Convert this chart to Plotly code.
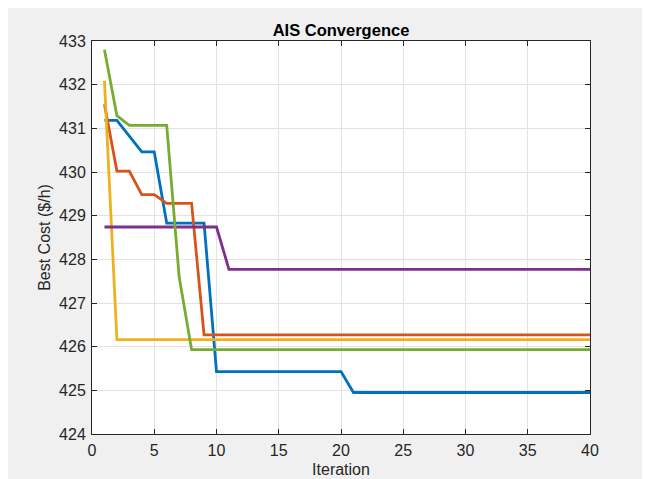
import plotly.graph_objects as go

iterations = list(range(1, 41))

blue = [431.18, 431.18, 430.82, 430.46, 430.46, 428.83, 428.83, 428.83, 428.83,
        425.43, 425.43, 425.43, 425.43, 425.43, 425.43, 425.43, 425.43, 425.43, 425.43, 425.43,
        424.95, 424.95, 424.95, 424.95, 424.95, 424.95, 424.95, 424.95, 424.95, 424.95,
        424.95, 424.95, 424.95, 424.95, 424.95, 424.95, 424.95, 424.95, 424.95, 424.95]
orange = [431.55, 430.02, 430.02, 429.48, 429.48, 429.28, 429.28, 429.28,
          426.27, 426.27, 426.27, 426.27, 426.27, 426.27, 426.27, 426.27, 426.27, 426.27, 426.27, 426.27,
          426.27, 426.27, 426.27, 426.27, 426.27, 426.27, 426.27, 426.27, 426.27, 426.27,
          426.27, 426.27, 426.27, 426.27, 426.27, 426.27, 426.27, 426.27, 426.27, 426.27]
yellow = [432.09, 426.16, 426.16, 426.16, 426.16, 426.16, 426.16, 426.16, 426.16, 426.16,
          426.16, 426.16, 426.16, 426.16, 426.16, 426.16, 426.16, 426.16, 426.16, 426.16,
          426.16, 426.16, 426.16, 426.16, 426.16, 426.16, 426.16, 426.16, 426.16, 426.16,
          426.16, 426.16, 426.16, 426.16, 426.16, 426.16, 426.16, 426.16, 426.16, 426.16]
purple = [428.74, 428.74, 428.74, 428.74, 428.74, 428.74, 428.74, 428.74, 428.74, 428.74,
          427.77, 427.77, 427.77, 427.77, 427.77, 427.77, 427.77, 427.77, 427.77, 427.77,
          427.77, 427.77, 427.77, 427.77, 427.77, 427.77, 427.77, 427.77, 427.77, 427.77,
          427.77, 427.77, 427.77, 427.77, 427.77, 427.77, 427.77, 427.77, 427.77, 427.77]
green = [432.80, 431.29, 431.07, 431.07, 431.07, 431.07, 427.60,
         425.93, 425.93, 425.93, 425.93, 425.93, 425.93, 425.93, 425.93, 425.93, 425.93, 425.93, 425.93, 425.93,
         425.93, 425.93, 425.93, 425.93, 425.93, 425.93, 425.93, 425.93, 425.93, 425.93,
         425.93, 425.93, 425.93, 425.93, 425.93, 425.93, 425.93, 425.93, 425.93, 425.93]

series = [
    ("Run 1", blue, "#0072BD"),
    ("Run 2", orange, "#D95319"),
    ("Run 3", yellow, "#EDB120"),
    ("Run 4", purple, "#7E2F8E"),
    ("Run 5", green, "#77AC30"),
]

FONT = "Liberation Sans, Arial, Helvetica, sans-serif"

fig = go.Figure()
for name, vals, color in series:
    fig.add_trace(go.Scatter(x=iterations, y=vals, mode="lines", name=name,
                             line=dict(color=color, width=2.8)))

axis_common = dict(
    showline=True, linecolor="#262626", linewidth=1, mirror="ticks",
    ticks="inside", ticklen=5, tickcolor="#262626",
    showgrid=True, gridcolor="#e3e3e3", gridwidth=1,
    zeroline=False, ticklabelstandoff=2,
    tickfont=dict(family=FONT, size=16, color="#262626"),
)

fig.update_layout(
    width=650, height=479,
    paper_bgcolor="#f0f0f0", plot_bgcolor="#ffffff",
    margin=dict(l=84, r=68, t=33, b=53, autoexpand=False),
    showlegend=False,
    title=dict(text="<b>AIS Convergence</b>", x=0.5, xanchor="center", xref="paper",
               y=1, yref="paper", yanchor="bottom", pad=dict(b=5),
               font=dict(family=FONT, size=16.5, color="#000000")),
    xaxis=dict(range=[0, 40], tickvals=[0, 5, 10, 15, 20, 25, 30, 35, 40],
               title=dict(text="Iteration", standoff=5,
                          font=dict(family=FONT, size=16, color="#262626")),
               **axis_common),
    yaxis=dict(range=[424, 433], tickvals=list(range(424, 434)),
               title=dict(text="Best Cost ($/h)", standoff=4,
                          font=dict(family=FONT, size=16, color="#262626")),
               **axis_common),
)

fig.write_html("out.html")
